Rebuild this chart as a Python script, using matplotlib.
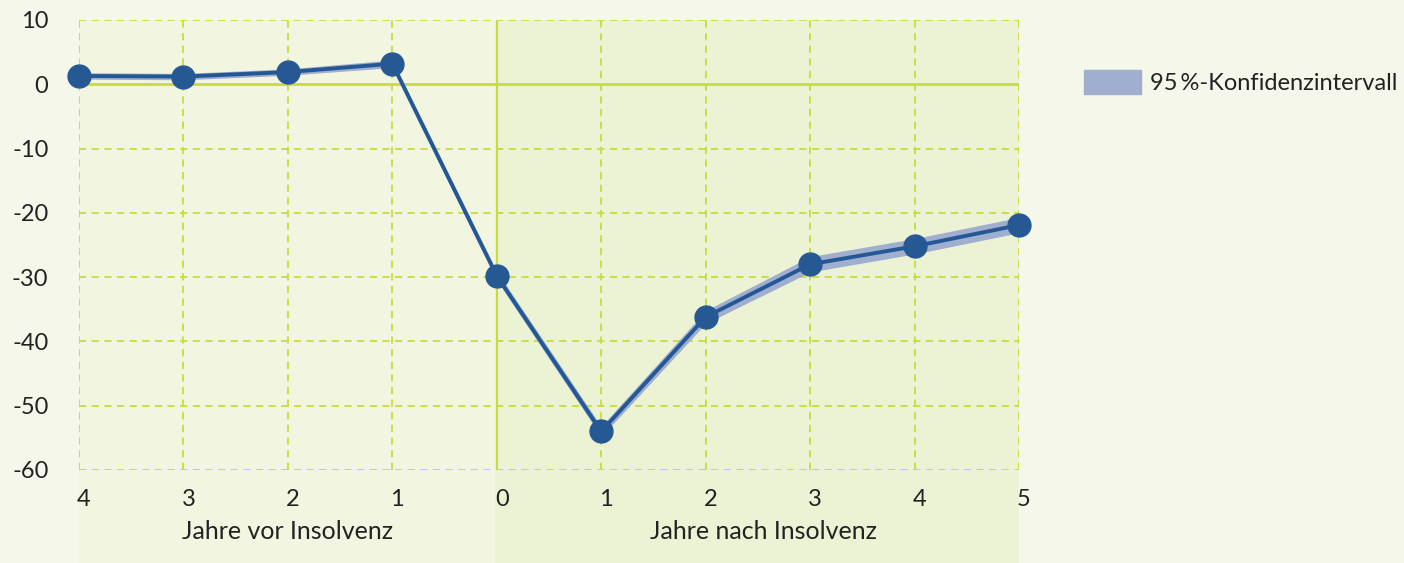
import numpy as np
import matplotlib.pyplot as plt
import matplotlib.patches as mpatches
import matplotlib.transforms as mtransforms

plt.rcParams['font.family'] = ['Lato', 'DejaVu Sans']

# Data
x_pos = [-4, -3, -2, -1, 0, 1, 2, 3, 4, 5]
x_labels = ['4', '3', '2', '1', '0', '1', '2', '3', '4', '5']
values = [1.3, 1.2, 1.9, 3.2, -29.8, -54.0, -36.2, -28.0, -25.2, -21.9]
ci_low = [0.8, 0.7, 1.4, 2.6, -30.5, -54.8, -37.2, -29.2, -26.4, -23.1]
ci_high = [1.8, 1.7, 2.4, 3.8, -29.1, -53.2, -35.2, -26.8, -24.0, -20.7]
y_ticks = [10, 0, -10, -20, -30, -40, -50, -60]
group_labels = ['Jahre vor Insolvenz', 'Jahre nach Insolvenz']

bg = '#F5F7EA'
band_left = '#F2F6E1'
band_right = '#ECF3D4'
grid_col = '#C8DC3C'
line_col = '#245895'
ci_col = '#A0AECF'
text_col = '#222222'

fig = plt.figure(figsize=(14.04, 5.63), dpi=100, facecolor=bg)
ax = fig.add_axes([79/1404, 93/563, 940/1404, 450/563])
ax.set_facecolor('none')
ax.set_xlim(-4, 5)
ax.set_ylim(-60, 10)

# background bands, extended below the axes down to the figure edge
ext = -93/450
ax.axvspan(-4, -0.02, ymin=ext, ymax=1, color=band_left, clip_on=False, zorder=0, lw=0)
ax.axvspan(-0.02, 5, ymin=ext, ymax=1, color=band_right, clip_on=False, zorder=0, lw=0)

# grid
for x in x_pos:
    if x == 0:
        ax.axvline(x, color=grid_col, lw=1.5, zorder=1)
    else:
        ax.axvline(x, color=grid_col, lw=1.3, ls=(0, (4, 3)), zorder=1)
for y in y_ticks:
    if y == 0:
        ax.axhline(y, color=grid_col, lw=2, zorder=1)
    else:
        ax.axhline(y, color=grid_col, lw=1.3, ls=(0, (4, 3)), zorder=1)

for s in ax.spines.values():
    s.set_visible(False)

# confidence band and line
ax.fill_between(x_pos, ci_low, ci_high, color=ci_col, lw=0, zorder=2)
ax.plot(x_pos, values, color=line_col, lw=2.8, marker='o', ms=16.5,
        markerfacecolor='#265994', markeredgecolor='#265994', zorder=3, clip_on=False)

ax.set_xticks(x_pos)
ax.set_xticklabels(x_labels)
ax.set_yticks(y_ticks)
ax.set_yticklabels([str(v) for v in y_ticks])
ax.tick_params(axis='both', length=0, labelsize=17, colors=text_col)
ax.tick_params(axis='x', pad=14)
ax.tick_params(axis='y', pad=22)

# x tick labels sit a little right of the grid lines
shift = mtransforms.ScaledTranslation(5/100, 0, fig.dpi_scale_trans)
for lbl in ax.get_xticklabels():
    lbl.set_transform(lbl.get_transform() + shift)

# group labels
ax.text(-2.0, -69.6, group_labels[0], ha='center', va='center', fontsize=18, color=text_col)
ax.text(2.55, -69.6, group_labels[1], ha='center', va='center', fontsize=18, color=text_col)

# legend
patch = mpatches.Patch(color=ci_col, label='95\u2009%-Konfidenzintervall')
fig.legend(handles=[patch], loc='center left', bbox_to_anchor=(1084/1404, 1 - 82/563),
           frameon=False, fontsize=17, handlelength=2.4, handleheight=1.23,
           handletextpad=0.38, borderpad=0, borderaxespad=0, labelcolor=text_col)

fig.savefig('out.png', dpi=100, facecolor=bg)
